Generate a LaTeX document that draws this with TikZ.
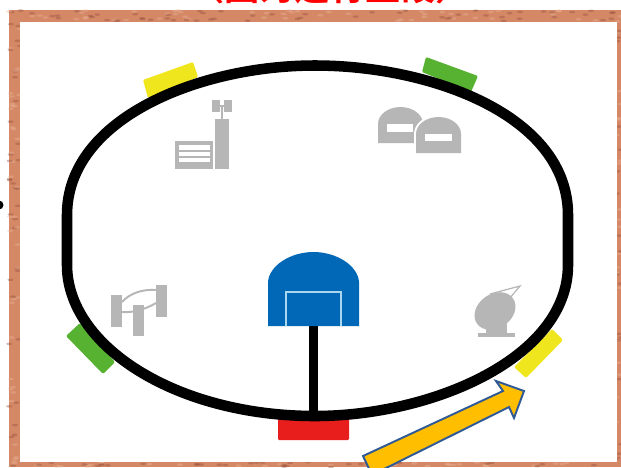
\documentclass[tikz,border=0pt]{standalone}
\usepackage{fontspec}
\newfontfamily\cjkfont{Noto Sans CJK SC}[BoldFont={Noto Sans CJK SC Bold}]
\usepackage{xcolor}
\usepackage{tikz}
\definecolor{myred}{RGB}{255,0,0}
\definecolor{mybrown}{RGB}{212,136,102}
\definecolor{mydarkbrown}{RGB}{150,80,60}
\definecolor{mylightbrown}{RGB}{236,182,152}
\definecolor{mygray}{RGB}{182,182,182}
\definecolor{myblue}{RGB}{0,104,183}
\definecolor{myline}{RGB}{170,215,240}
\definecolor{tagyellow}{RGB}{240,230,30}
\definecolor{taggreen}{RGB}{88,178,50}
\definecolor{tagred}{RGB}{232,30,28}
\definecolor{myamber}{RGB}{255,190,0}
\definecolor{myedge}{RGB}{47,90,150}
\tikzset{
  track/.style={draw=black, line width=6pt},
  tagbox/.style={rounded corners=0.7pt},
  icon/.style={fill=mygray, draw=none},
  iconline/.style={draw=mygray, line width=1.1pt},
  slot/.style={fill=white, draw=none}
}
\begin{document}
\begin{tikzpicture}[x=0.02cm, y=-0.02cm]
  \useasboundingbox (0,0) rectangle (621,467);
  \clip (0,0) rectangle (621,467);
  % Frame
  \fill[mybrown] (9,10) rectangle (621,467);
  \pgfmathsetseed{7}
  \foreach \xa/\xb/\ya/\yb/\num in {9/621/10/21/110, 9/621/462/467/60, 9/20/21/462/70, 616/621/21/462/40} {
    \foreach \i in {1,...,\num} {
      \pgfmathsetmacro{\px}{\xa+rnd*(\xb-\xa)}
      \pgfmathsetmacro{\py}{\ya+rnd*(\yb-\ya)}
      \pgfmathsetmacro{\pick}{rnd<0.5 ? "mydarkbrown" : "mylightbrown"}
      \fill[\pick, opacity=0.4] (\px,\py) ellipse (3 and 1.3);
    }
  }
  \fill[white] (20,21.5) rectangle (616.5,461.5);
  % Cropped heading and mark on the left edge
  \node[anchor=base, font=\cjkfont\bfseries\fontsize{20pt}{20pt}\selectfont, text=myred, inner sep=0pt] (heading) at (330,0.5) {（图为运行至段）};
  \fill[black] (-1,205) circle (4.5) coordinate (edgemark);
  % Position tags
  \fill[tagyellow, tagbox] (143,80) -- (193,62) -- (198,77) -- (148,98) -- cycle;
  \fill[taggreen, tagbox] (426,57) -- (478,76) -- (471,92) -- (422,72) -- cycle;
  \fill[taggreen, tagbox] (66,336) -- (80,323) -- (115,362) -- (103,374) -- cycle;
  \fill[tagyellow, tagbox] (552,329) -- (563,340) -- (526,378) -- (514,367) -- cycle;
  \fill[tagred, tagbox] (278,418) rectangle (349,440);
  % Factory with mast
  \fill[icon] (175,141) rectangle (213,169);
  \fill[slot] (179,145) rectangle (210,150);
  \fill[slot] (179,152) rectangle (210,156);
  \fill[slot] (179,158) rectangle (210,162);
  \fill[icon] (215,119) rectangle (229,169);
  \fill[icon] (221,105) rectangle (223,119);
  \fill[icon] (212,100) rectangle (220,112);
  \fill[icon] (224,100) rectangle (232,112);
  \fill[icon] (220,105) rectangle (224,107);
  % Domes
  \fill[icon] (378,143) -- (378,124) arc[start angle=180, end angle=360, x radius=22.5, y radius=17] -- (423,143) -- cycle;
  \fill[white] (414,156) -- (414,134) arc[start angle=180, end angle=360, x radius=24.5, y radius=19] -- (463,156) -- cycle;
  \fill[icon] (416,153) -- (416,134) arc[start angle=180, end angle=360, x radius=22.5, y radius=17] -- (461,153) -- cycle;
  \fill[slot] (387,124) rectangle (413,132);
  \fill[slot] (425,134) rectangle (452,141);
  % Left building
  \fill[icon] (111,295) rectangle (122,327);
  \fill[icon] (133,305) rectangle (144,336);
  \fill[icon] (156,285) rectangle (167,317);
  \draw[iconline] (122,302) .. controls (130,293) and (143,289) .. (156,290);
  \draw[iconline] (122,312) .. controls (133,313) and (146,309) .. (156,303);
  % Dish
  \fill[icon, rotate around={35:(495,311)}] (495,311) ellipse (22 and 17);
  \fill[icon] (486,322) rectangle (507,334);
  \fill[icon] (478,333) rectangle (515,337);
  \draw[iconline, line width=0.7pt] (490,294) -- (520,286) -- (509,299);
  % Track
  \draw[track] (67,240) -- (67,215) .. controls (67,118) and (200,65.5) .. (315,65.5)
    .. controls (430,65.5) and (568,115) .. (568,215) -- (568,265)
    .. controls (568,358) and (432,416) .. (315,416)
    .. controls (176,416) and (67,346) .. (67,265) -- cycle;
  % Control room on its stem
  \coordinate (hutbase) at (313.5,326);
  \coordinate (trackbase) at (313.5,416);
  \draw[draw=black, line width=5pt] (hutbase) -- (trackbase);
  \fill[myblue] (268,326) -- (268,282) .. controls (269,266) and (290,252) .. (313.5,252)
    .. controls (337,252) and (358,266) .. (359,282) -- (359,326) -- cycle;
  \draw[myline, line width=0.7pt] (286,326) -- (286,292) -- (341,292) -- (341,326);
  % Arrow
  \draw[fill=myamber, draw=myedge, line width=1.1pt, line join=miter]
    (524,391) -- (514,418) -- (509,407) -- (372,475) -- (363,456) -- (503,391) -- (496,381) -- cycle;
\end{tikzpicture}
\end{document}
